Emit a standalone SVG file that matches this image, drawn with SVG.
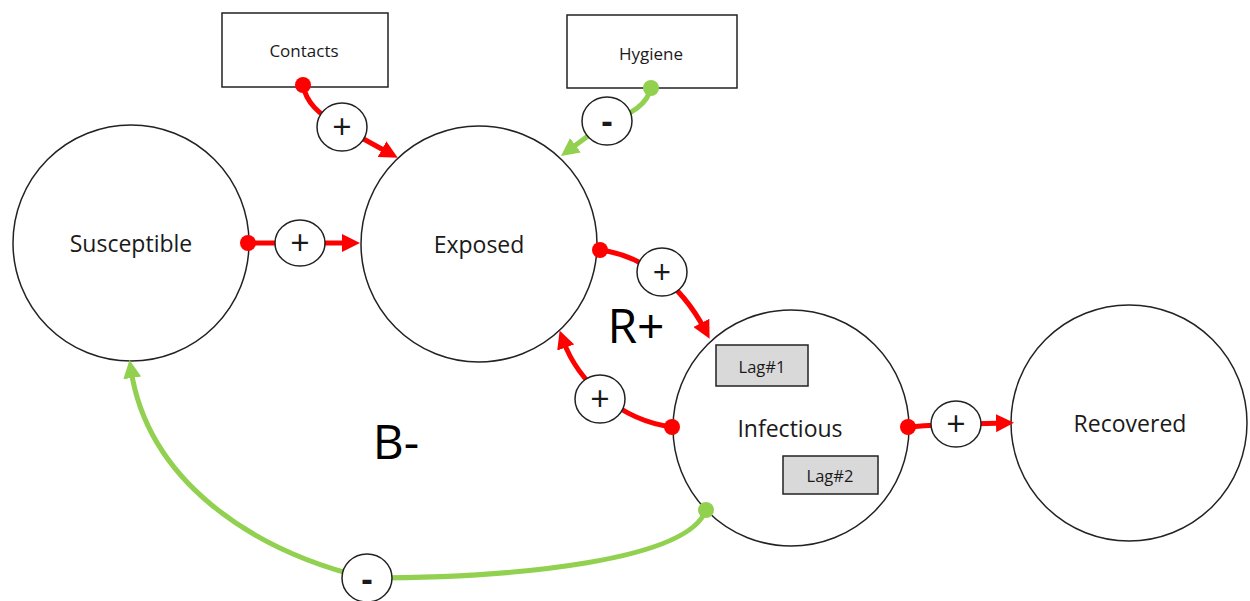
<svg xmlns="http://www.w3.org/2000/svg" width="1250" height="601" viewBox="0 0 1250 601">
<style>
.node{fill:#fff;stroke:#222;stroke-width:1.5}
.box{fill:#fff;stroke:#222;stroke-width:1.5}
.lag{fill:#d9d9d9;stroke:#222;stroke-width:1.5}
.sign{fill:#fff;stroke:#222;stroke-width:1.5}
.lbl{font-family:"Open Sans","Liberation Sans",sans-serif;fill:#1a1a1a;text-anchor:middle;dominant-baseline:central}
.red{fill:none;stroke:#ff0000;stroke-width:5}
.green{fill:none;stroke:#92d050;stroke-width:5}
.big{font-family:"Open Sans","Liberation Sans",sans-serif;fill:#000;font-size:48px;text-anchor:middle}
</style>
<defs>
<marker id="ar" markerUnits="userSpaceOnUse" markerWidth="18" markerHeight="18" refX="8" refY="9" orient="auto" viewBox="0 0 18 18"><path d="M0,0 L18,9 L0,18 z" fill="#ff0000"/></marker>
<marker id="ag" markerUnits="userSpaceOnUse" markerWidth="18" markerHeight="18" refX="8" refY="9" orient="auto" viewBox="0 0 18 18"><path d="M0,0 L18,9 L0,18 z" fill="#92d050"/></marker>
</defs>
<g id="susceptible"><circle class="node" cx="131" cy="243" r="118"/><text class="lbl" x="131" y="243" font-size="23">Susceptible</text></g>
<g id="exposed"><circle class="node" cx="479" cy="244" r="118"/><text class="lbl" x="479" y="244" font-size="23">Exposed</text></g>
<g id="infectious"><circle class="node" cx="791" cy="428" r="118"/><text class="lbl" x="790" y="428" font-size="23">Infectious</text></g>
<g id="recovered"><circle class="node" cx="1129" cy="423" r="118"/><text class="lbl" x="1130" y="423" font-size="23">Recovered</text></g>
<g id="contacts"><rect class="box" x="222" y="13" width="166" height="74"/><text class="lbl" x="304" y="50" font-size="17">Contacts</text></g>
<g id="hygiene"><rect class="box" x="567" y="15" width="170" height="73"/><text class="lbl" x="651" y="53" font-size="17">Hygiene</text></g>
<g id="lag1"><rect class="lag" x="716" y="345" width="92" height="41"/><text class="lbl" x="762" y="366" font-size="16.5">Lag#1</text></g>
<g id="lag2"><rect class="lag" x="783" y="456" width="95" height="38"/><text class="lbl" x="830" y="475" font-size="16.5">Lag#2</text></g>
<g id="connectors">
<path class="red" d="M303,85 C306,102 318,114 340,126 L389,153" marker-end="url(#ar)"/>
<path class="green" d="M651,87 C648,104 632,114 607,122 L569,150" marker-end="url(#ag)"/>
<path class="red" d="M248,243 L350,243" marker-end="url(#ar)"/>
<path class="red" d="M600,250 C640,255 680,282 705,330" marker-end="url(#ar)"/>
<path class="red" d="M672,427 C620,420 578,382 563,340" marker-end="url(#ar)"/>
<path class="red" d="M908,427 C930,425 960,424 1004,423" marker-end="url(#ar)"/>
<path class="green" d="M706,510 C688,560 520,578 366,578"/>
<path class="green" d="M366,578 C250,550 148,480 131,370" marker-end="url(#ag)"/>
<circle cx="303" cy="85" r="8" fill="#ff0000"/>
<circle cx="651" cy="88" r="8" fill="#92d050"/>
<circle cx="248" cy="243" r="8" fill="#ff0000"/>
<circle cx="600" cy="250" r="8" fill="#ff0000"/>
<circle cx="672" cy="427" r="8" fill="#ff0000"/>
<circle cx="908" cy="427" r="8" fill="#ff0000"/>
<circle cx="706" cy="510" r="8" fill="#92d050"/>
</g>
<g id="signs">
<ellipse class="sign" cx="342" cy="127" rx="25" ry="24"/><text class="lbl" x="342" y="126" font-size="34">+</text>
<ellipse class="sign" cx="607" cy="121" rx="25" ry="24"/><text class="lbl" x="607" y="120" font-size="34" font-weight="bold">-</text>
<ellipse class="sign" cx="300" cy="243" rx="25" ry="23"/><text class="lbl" x="300" y="242" font-size="34">+</text>
<ellipse class="sign" cx="662" cy="272" rx="25" ry="24"/><text class="lbl" x="662" y="271" font-size="32">+</text>
<ellipse class="sign" cx="600" cy="399" rx="25" ry="24"/><text class="lbl" x="600" y="398" font-size="34">+</text>
<ellipse class="sign" cx="956" cy="424" rx="25" ry="23"/><text class="lbl" x="956" y="423" font-size="34">+</text>
<ellipse class="sign" cx="367" cy="578" rx="25" ry="24"/><text class="lbl" x="367" y="578" font-size="34" font-weight="bold">-</text>
</g>
<text class="big" x="636" y="343">R+</text>
<text class="big" x="396" y="459">B-</text>
</svg>
